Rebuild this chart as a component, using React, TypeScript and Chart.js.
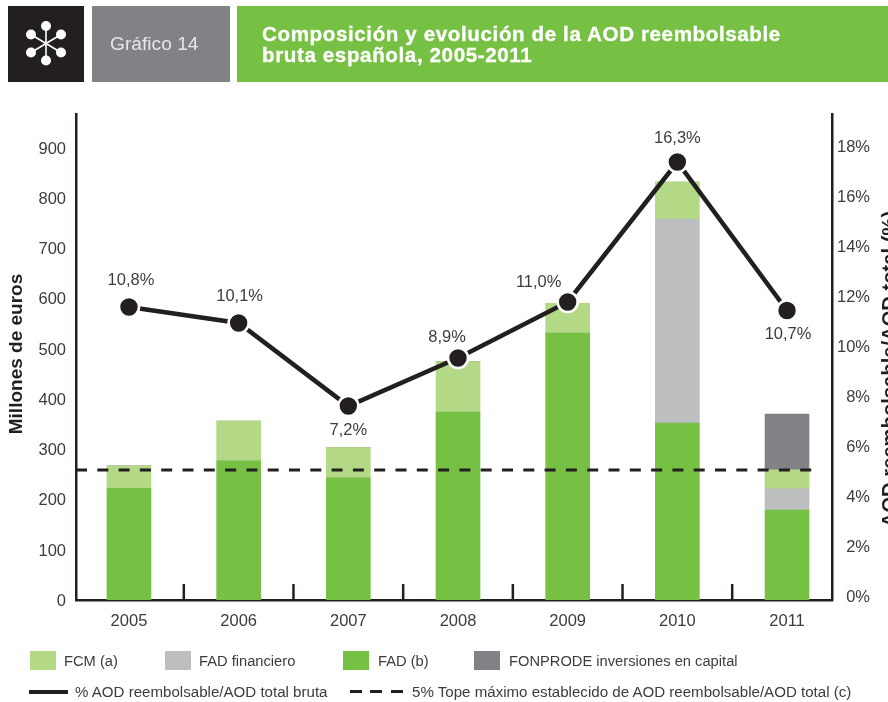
import React, { useEffect, useRef } from "react";
import { Chart, registerables } from "chart.js";

Chart.register(...registerables);

const years = ["2005", "2006", "2007", "2008", "2009", "2010", "2011"];
const fad = [222, 277, 243, 374, 531, 352, 179];
const fadFinanciero = [0, 0, 0, 0, 0, 405, 42];
const fcm = [45, 79, 60, 100, 59, 74, 38];
const fonprode = [0, 0, 0, 0, 0, 0, 111];
const ratioPlotted = [11.6, 10.96, 7.64, 9.56, 11.8, 17.4, 11.46];
const ratioLabels = ["10,8%", "10,1%", "7,2%", "8,9%", "11,0%", "16,3%", "10,7%"];
const topeMaximo = 5.08;
const pctTicks = [0, 2, 4, 6, 8, 10, 12, 14, 16, 18];

const INK = "#231f20";
const TEXT = "#3c3c3c";
const GREEN = "#76c043";
const LIGHT_GREEN = "#b3d987";
const LIGHT_GRAY = "#bcbec0";
const DARK_GRAY = "#808285";
const FONT = '"Liberation Sans", Arial, sans-serif';

const labelOffsets = [
  [2, -27],
  [1, -27],
  [0, 24],
  [-11, -21],
  [-29, -20],
  [0, -24],
  [1, 24],
];

const overlayPlugin = {
  id: "overlay",
  beforeDatasetsDraw(chart: any) {
    const { ctx, scales, chartArea } = chart;
    ctx.save();
    ctx.strokeStyle = INK;
    ctx.lineWidth = 2.5;
    years.slice(0, -1).forEach((y) => {
      const px = scales.x.getPixelForValue(+y + 0.5);
      ctx.beginPath();
      ctx.moveTo(px, chartArea.bottom);
      ctx.lineTo(px, chartArea.bottom - 16);
      ctx.stroke();
    });
    ctx.restore();
  },
  afterDatasetsDraw(chart: any) {
    const { ctx } = chart;
    const meta = chart.getDatasetMeta(4);
    ctx.save();
    ctx.font = `16.5px ${FONT}`;
    ctx.fillStyle = TEXT;
    ctx.textAlign = "center";
    ctx.textBaseline = "middle";
    meta.data.forEach((pt: any, i: number) => {
      ctx.fillText(ratioLabels[i], pt.x + labelOffsets[i][0], pt.y + labelOffsets[i][1]);
    });
    ctx.restore();
    const axisTitle = (text: string, x: number, y: number, size: number) => {
      ctx.save();
      ctx.translate(x, y);
      ctx.rotate(-Math.PI / 2);
      ctx.font = `bold ${size}px ${FONT}`;
      ctx.fillStyle = INK;
      ctx.textAlign = "center";
      ctx.textBaseline = "alphabetic";
      ctx.fillText(text, 0, 0);
      ctx.restore();
    };
    axisTitle("Millones de euros", 22, 354, 19);
    axisTitle("AOD reembolsable/AOD total (%)", 896, 369, 20.2);
  },
};

const swatches = [
  { label: "FCM (a)", color: LIGHT_GREEN, x: 30, tx: 64 },
  { label: "FAD financiero", color: LIGHT_GRAY, x: 165, tx: 199 },
  { label: "FAD (b)", color: GREEN, x: 343, tx: 378 },
  { label: "FONPRODE inversiones en capital", color: DARK_GRAY, x: 474, tx: 509 },
];

const abs = (s: React.CSSProperties): React.CSSProperties => ({ position: "absolute", ...s });

function Icon() {
  const nodes = [
    [46, 26],
    [46, 60.5],
    [31, 34.5],
    [61, 34.5],
    [31, 52.5],
    [61, 52.5],
  ];
  return (
    <svg width={76} height={76} viewBox="8 6 76 76" style={abs({ left: 8, top: 6 })}>
      <rect x={8} y={6} width={76} height={76} fill={INK} />
      {nodes.map(([x, y], i) => (
        <g key={i}>
          <line x1={46} y1={43.5} x2={x} y2={y} stroke="#fff" strokeWidth={1.6} />
          <circle cx={x} cy={y} r={5} fill="#fff" />
        </g>
      ))}
    </svg>
  );
}

export default function App() {
  const ref = useRef<HTMLCanvasElement>(null);
  useEffect(() => {
    const bar = (label: string, data: number[], color: string) => ({
      type: "bar" as const,
      label,
      data,
      backgroundColor: color,
      barThickness: 44,
      xAxisID: "x",
      yAxisID: "y",
      order: 3,
    });
    const chart = new Chart(ref.current!, {
      type: "bar",
      data: {
        labels: years,
        datasets: [
          bar("FAD (b)", fad, GREEN),
          bar("FAD financiero", fadFinanciero, LIGHT_GRAY),
          bar("FCM (a)", fcm, LIGHT_GREEN),
          bar("FONPRODE inversiones en capital", fonprode, DARK_GRAY),
          {
            type: "line",
            label: "% AOD reembolsable/AOD total bruta",
            data: ratioPlotted,
            yAxisID: "y1",
            xAxisID: "x",
            borderColor: INK,
            borderWidth: 4.6,
            tension: 0,
            pointRadius: 10,
            pointBorderWidth: 2.6,
            pointBackgroundColor: INK,
            pointBorderColor: "#ffffff",
            order: 1,
          },
          {
            type: "line",
            label: "5% Tope máximo establecido de AOD reembolsable/AOD total (c)",
            data: [
              { x: 2004.517, y: topeMaximo },
              { x: 2011.23, y: topeMaximo },
            ],
            yAxisID: "y1",
            xAxisID: "x",
            borderColor: INK,
            borderWidth: 3.2,
            borderDash: [11, 10.3],
            pointRadius: 0,
            order: 2,
          },
        ] as any,
      },
      options: {
        animation: false,
        responsive: false,
        layout: { padding: { top: 114, left: 0, right: 18, bottom: 0 } },
        plugins: { legend: { display: false }, tooltip: { enabled: false } },
        scales: {
          x: {
            type: "linear",
            stacked: true,
            offset: false,
            min: 2004.517,
            max: 2011.41,
            afterFit: (s: any) => {
              s.height = 102;
            },
            grid: { display: false, drawTicks: false, offset: false },
            border: { display: true, color: INK, width: 2.5 },
            ticks: {
              stepSize: 1,
              includeBounds: false,
              maxRotation: 0,
              autoSkip: false,
              padding: 12,
              color: TEXT,
              font: { family: FONT, size: 16.5 },
              callback: (v: any) => String(v),
            },
          },
          y: {
            type: "linear",
            position: "left",
            stacked: true,
            min: 0,
            max: 966.6,
            afterFit: (s: any) => {
              s.width = 76;
            },
            grid: { display: false, drawTicks: false },
            border: { display: true, color: INK, width: 2.5 },
            ticks: {
              stepSize: 100,
              includeBounds: false,
              padding: 10,
              labelOffset: 1.5,
              color: TEXT,
              font: { family: FONT, size: 16.5 },
            },
          },
          y1: {
            type: "linear",
            position: "right",
            min: -0.12,
            max: 19.32,
            afterBuildTicks: (s: any) => {
              s.ticks = pctTicks.map((value) => ({ value }));
            },
            afterFit: (s: any) => {
              s.width = 38;
            },
            grid: { display: false, drawTicks: false, drawOnChartArea: false },
            border: { display: true, color: INK, width: 2.5 },
            ticks: {
              padding: 7,
              labelOffset: 0.5,
              crossAlign: "far",
              color: TEXT,
              font: { family: FONT, size: 16.5 },
              callback: (v: any) => `${v}%`,
            },
          },
        },
      } as any,
      plugins: [overlayPlugin],
    });
    return () => chart.destroy();
  }, []);

  const legendText: React.CSSProperties = {
    fontFamily: FONT,
    color: TEXT,
    whiteSpace: "nowrap",
    lineHeight: "18px",
  };

  return (
    <div style={abs({ left: 0, top: 0, width: 888, height: 702, overflow: "hidden", background: "#fff" })}>
      <canvas ref={ref} width={888} height={702} style={abs({ left: 0, top: 0, display: "block" })} />
      <Icon />
      <div style={abs({ left: 92, top: 6, width: 138, height: 76, background: DARK_GRAY })} />
      <div style={abs({ left: 110, top: 32, fontFamily: FONT, fontSize: 19.2, lineHeight: "24px", color: "#e6e7e8", whiteSpace: "nowrap" })}>
        Gráfico 14
      </div>
      <div style={abs({ left: 237, top: 6, width: 651, height: 76, background: GREEN })} />
      <div style={abs({ left: 262, top: 23, fontFamily: FONT, fontWeight: "bold", fontSize: 20.6, letterSpacing: 0.6, lineHeight: "21px", color: "#fff", whiteSpace: "nowrap", WebkitTextStroke: "0.3px #fff" })}>
        Composición y evolución de la AOD reembolsable
        <br />
        bruta española, 2005-2011
      </div>
      {swatches.map((s) => (
        <React.Fragment key={s.label}>
          <div style={abs({ left: s.x, top: 651, width: 26, height: 19, background: s.color })} />
          <div style={{ ...abs({ left: s.tx, top: 652, fontSize: 14.7 }), ...legendText }}>{s.label}</div>
        </React.Fragment>
      ))}
      <div style={abs({ left: 29, top: 690, width: 39, height: 4, background: INK })} />
      <div style={{ ...abs({ left: 75, top: 683, fontSize: 15.1 }), ...legendText }}>% AOD reembolsable/AOD total bruta</div>
      <div style={abs({ left: 350, top: 690, width: 12, height: 3, background: INK })} />
      <div style={abs({ left: 370, top: 690, width: 12, height: 3, background: INK })} />
      <div style={abs({ left: 391, top: 690, width: 12, height: 3, background: INK })} />
      <div style={{ ...abs({ left: 412, top: 683, fontSize: 15.1 }), ...legendText }}>5% Tope máximo establecido de AOD reembolsable/AOD total (c)</div>
    </div>
  );
}
